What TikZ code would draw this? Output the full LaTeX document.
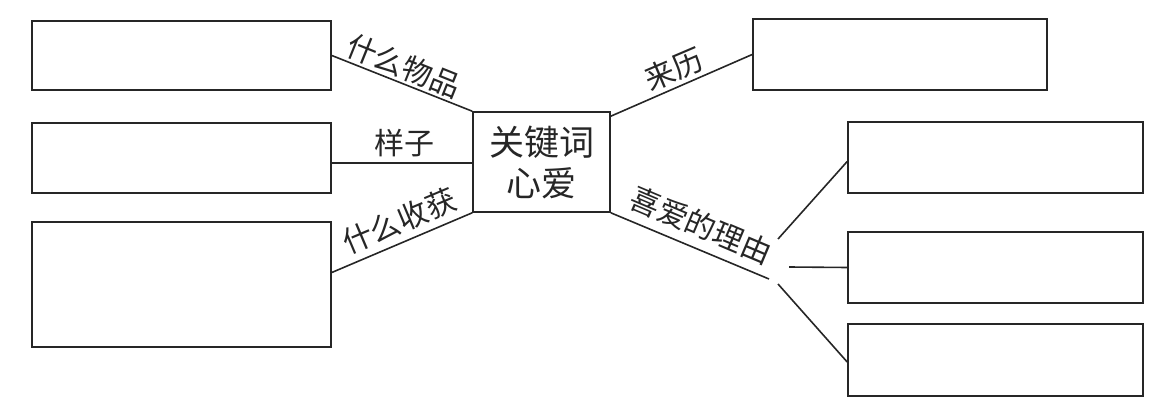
\documentclass[tikz,border=0pt]{standalone}
\usepackage{fontspec}
\newfontfamily\cjk{Noto Sans CJK SC}
\begin{document}
\begin{tikzpicture}[x=1pt,y=-1pt,
  box/.style={draw=black!85,line width=1.6pt,inner sep=0pt,minimum width=#1},
  lbl/.style={font=\cjk\fontsize{30}{32}\selectfont,text=black!85,inner sep=0pt},
  con/.style={draw=black!85,line width=1.6pt}]
\useasboundingbox (0,0) rectangle (1151,414);
\node[box=299pt,minimum height=69pt] (L1) at (181.5,55.5) {};
\node[box=299pt,minimum height=70pt] (L2) at (181.5,158) {};
\node[box=299pt,minimum height=125pt] (L3) at (181.5,284.5) {};
\node[box=137pt,minimum height=100pt,align=center,font=\cjk\fontsize{35}{41}\selectfont,text=black!85] (C) at (541.5,162) {关键词\\心爱};
\node[box=294pt,minimum height=71pt] (R0) at (900,54.5) {};
\node[box=295pt,minimum height=71pt] (R1) at (995.5,157.5) {};
\node[box=295pt,minimum height=71pt] (R2) at (995.5,267.5) {};
\node[box=295pt,minimum height=72pt] (R3) at (995.5,360) {};
\coordinate (hub) at (769,279);
\coordinate (b1) at (778,239);
\coordinate (b2) at (789,267);
\coordinate (b3) at (778,284);
\draw[con] (L1.east) -- (C.north west);
\draw[con] ([yshift=-5pt]L2.east) -- ([yshift=-5pt]L2.east -| C.west);
\draw[con] ([yshift=12pt]L3.east) -- (C.south west);
\draw[con] ([yshift=-5pt]C.north east) -- (R0.west);
\draw[con] (C.south east) -- (hub);
\draw[con] (b1) -- ([yshift=-4pt]R1.west);
\draw[con] (b2) -- (R2.west);
\draw[con] (b3) -- ([yshift=-2pt]R3.west);
\node[lbl,rotate=-21.9] (t1) at (404,66) {什么物品};
\node[lbl] (t2) at (404,143) {样子};
\node[lbl,rotate=22.9] (t3) at (399,221) {什么收获};
\node[lbl,rotate=23.1] (t4) at (674,69) {来历};
\node[lbl,rotate=-22.9] (t5) at (701,225) {喜爱的理由};
\end{tikzpicture}
\end{document}
